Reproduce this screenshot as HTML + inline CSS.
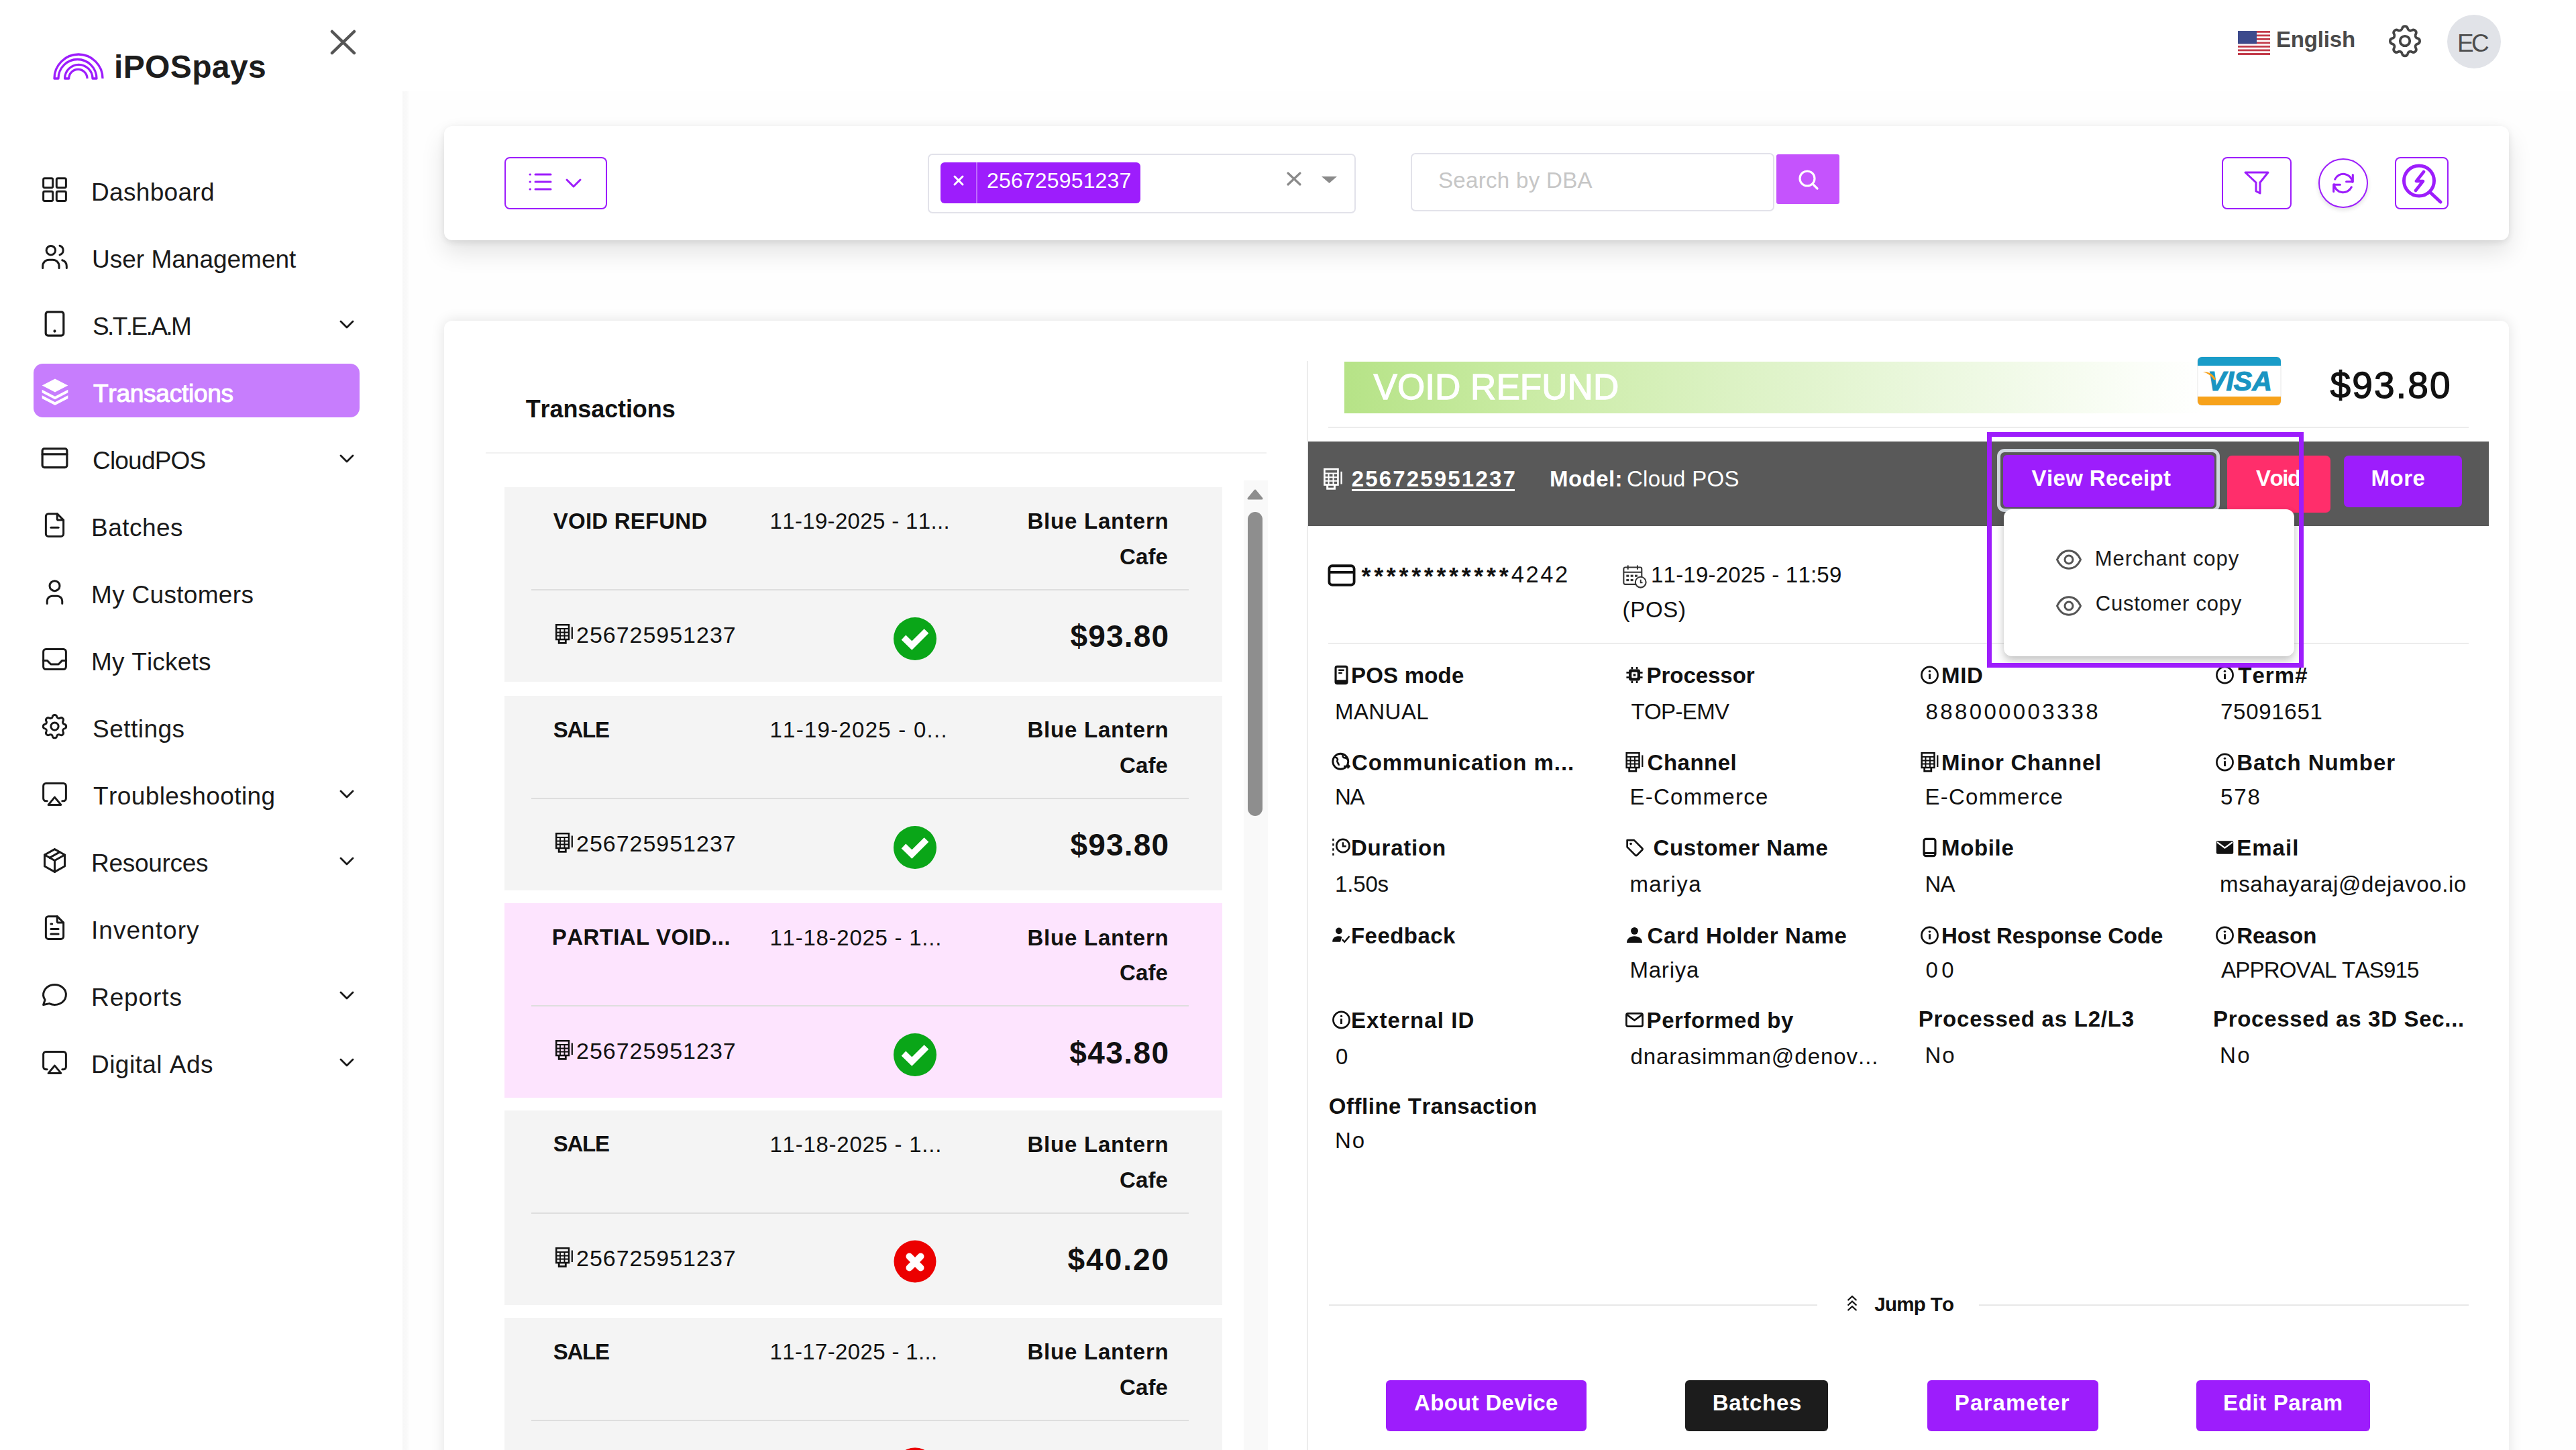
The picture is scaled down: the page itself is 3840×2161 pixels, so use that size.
<!DOCTYPE html>
<html><head><meta charset="utf-8"><title>iPOSpays - Transactions</title>
<style>
html,body{margin:0;padding:0;}
body{width:3840px;height:2161px;overflow:hidden;position:relative;background:#fff;font-family:"Liberation Sans",sans-serif;}
.t{position:absolute;white-space:nowrap;line-height:1;font-kerning:none;}
svg{overflow:visible}
</style></head><body>
<div style="position:absolute;left:600px;top:136px;width:3240px;height:2025px;background:#fefefe"></div>
<div style="position:absolute;left:600px;top:136px;width:10px;height:2025px;background:linear-gradient(90deg,#f7f7f7,#f9f9f9 60%,#fdfdfd)"></div>
<svg style="position:absolute;left:70px;top:72px;" width="92" height="52" viewBox="70 72 92 52" fill="none"><path d="M153,117 A36,36 0 0 0 81,117 L87,117 A28.5,28.5 0 0 1 144,117 L138,117 A20.7,20.7 0 0 0 96.6,117 L102.7,117 A13.65,13.65 0 0 1 130,117" stroke="#9d1dfc" stroke-width="3.3" stroke-linejoin="round"/></svg>
<div class="t" style="left:170.0px;top:76.4px;font-size:48px;font-weight:bold;letter-spacing:0.37px;color:#1d1d1d;">iPOSpays</div>
<svg style="position:absolute;left:490px;top:42px;" width="44" height="43" viewBox="0 0 44 43" fill="none"><path d="M5,5 L38,37 M38,5 L5,37" stroke="#555" stroke-width="4.5" stroke-linecap="round"/></svg>
<div style="position:absolute;left:50px;top:542px;width:486px;height:80px;background:#c77dfd;border-radius:14px"></div>
<svg style="position:absolute;left:59px;top:260.0px;" width="45" height="45.0" viewBox="0 0 24 24" fill="none"><g stroke="#1a1a1a" stroke-width="1.6" stroke-linecap="round" stroke-linejoin="round"><rect x="3" y="3" width="7.5" height="7.5" rx="1"/><rect x="13.5" y="3" width="7.5" height="7.5" rx="1"/><rect x="3" y="13.5" width="7.5" height="7.5" rx="1"/><rect x="13.5" y="13.5" width="7.5" height="7.5" rx="1"/></g></svg>
<div class="t" style="left:136.0px;top:267.7px;font-size:37px;letter-spacing:0.32px;color:#1a1a1a;">Dashboard</div>
<svg style="position:absolute;left:59px;top:360.0px;" width="45" height="45.0" viewBox="0 0 24 24" fill="none"><g stroke="#1a1a1a" stroke-width="1.6" stroke-linecap="round" stroke-linejoin="round"><circle cx="9" cy="7" r="3.6"/><path d="M2.5,21 v-1.5 a5,5 0 0 1 5,-5 h3 a5,5 0 0 1 5,5 v1.5"/><path d="M16,3.3 a3.8,3.8 0 0 1 0,7.3"/><path d="M21.5,21 v-1.5 a5,5 0 0 0 -3.5,-4.7"/></g></svg>
<div class="t" style="left:137.0px;top:367.7px;font-size:37px;color:#1a1a1a;">User Management</div>
<svg style="position:absolute;left:59px;top:460.0px;" width="45" height="45.0" viewBox="0 0 24 24" fill="none"><g stroke="#1a1a1a" stroke-width="1.6" stroke-linecap="round" stroke-linejoin="round"><rect x="4.9" y="2.6" width="14.2" height="18.8" rx="1.8" stroke-width="1.7"/><path d="M12,17.8 v0.1" stroke-width="2.2"/></g></svg>
<div class="t" style="left:138.0px;top:467.7px;font-size:37px;letter-spacing:-2.59px;color:#1a1a1a;">S.T.E.A.M</div>
<svg style="position:absolute;left:503px;top:473px;" width="28" height="22" viewBox="0 0 28 22" fill="none"><path d="M5,6 L14,15 L23,6" stroke="#1a1a1a" stroke-width="2.8" stroke-linecap="round" stroke-linejoin="round"/></svg>
<svg style="position:absolute;left:62px;top:563.5px;" width="40" height="40.0" viewBox="0 0 24 24" fill="none"><path d="M12,0.3 L23.6,6.3 L12,12.3 L0.4,6.3z" fill="#fff"/><path d="M0.4,10 L12,16 L23.6,10 L23.6,12.8 L12,18.8 L0.4,12.8z" fill="#fff"/><path d="M0.4,15.2 L12,21.2 L23.6,15.2 L23.6,18 L12,24 L0.4,18z" fill="#fff"/></svg>
<div class="t" style="left:139.0px;top:567.7px;font-size:37px;letter-spacing:-0.25px;color:#fff;-webkit-text-stroke:1.1px #fff;">Transactions</div>
<svg style="position:absolute;left:59px;top:660.0px;" width="45" height="45.0" viewBox="0 0 24 24" fill="none"><g stroke="#1a1a1a" stroke-width="1.6" stroke-linecap="round" stroke-linejoin="round"><rect x="2.2" y="4.6" width="19.6" height="14.9" rx="1.6" stroke-width="1.7"/><path d="M2.2,9 h19.6" stroke-width="1.7"/></g></svg>
<div class="t" style="left:138.0px;top:667.7px;font-size:37px;letter-spacing:-0.80px;color:#1a1a1a;">CloudPOS</div>
<svg style="position:absolute;left:503px;top:673px;" width="28" height="22" viewBox="0 0 28 22" fill="none"><path d="M5,6 L14,15 L23,6" stroke="#1a1a1a" stroke-width="2.8" stroke-linecap="round" stroke-linejoin="round"/></svg>
<svg style="position:absolute;left:59px;top:760.0px;" width="45" height="45.0" viewBox="0 0 24 24" fill="none"><g stroke="#1a1a1a" stroke-width="1.6" stroke-linecap="round" stroke-linejoin="round"><path d="M14,3 v4 a1,1 0 0 0 1,1 h4"/><path d="M17,21 h-10 a2,2 0 0 1 -2,-2 v-14 a2,2 0 0 1 2,-2 h7 l5,5 v11 a2,2 0 0 1 -2,2z"/><path d="M9,14 h6"/></g></svg>
<div class="t" style="left:136.0px;top:767.7px;font-size:37px;letter-spacing:0.47px;color:#1a1a1a;">Batches</div>
<svg style="position:absolute;left:59px;top:860.0px;" width="45" height="45.0" viewBox="0 0 24 24" fill="none"><g stroke="#1a1a1a" stroke-width="1.6" stroke-linecap="round" stroke-linejoin="round"><circle cx="12" cy="7" r="4"/><path d="M6,21 v-2 a4,4 0 0 1 4,-4 h4 a4,4 0 0 1 4,4 v2"/></g></svg>
<div class="t" style="left:136.0px;top:867.7px;font-size:37px;letter-spacing:0.31px;color:#1a1a1a;">My Customers</div>
<svg style="position:absolute;left:59px;top:960.0px;" width="45" height="45.0" viewBox="0 0 24 24" fill="none"><g stroke="#1a1a1a" stroke-width="1.6" stroke-linecap="round" stroke-linejoin="round"><rect x="3" y="4" width="18" height="16" rx="2"/><path d="M3,13 h3 l3,3 h6 l3,-3 h3"/></g></svg>
<div class="t" style="left:136.0px;top:967.7px;font-size:37px;letter-spacing:0.19px;color:#1a1a1a;">My Tickets</div>
<svg style="position:absolute;left:59px;top:1060.0px;" width="45" height="45.0" viewBox="0 0 24 24" fill="none"><g stroke="#1a1a1a" stroke-width="1.6" stroke-linecap="round" stroke-linejoin="round"><path d="M10.3,4.3 c.4,-1.8 3,-1.8 3.4,0 a1.7,1.7 0 0 0 2.6,1.1 c1.5,-.9 3.3,.8 2.4,2.4 a1.7,1.7 0 0 0 1.1,2.6 c1.8,.4 1.8,3 0,3.4 a1.7,1.7 0 0 0 -1.1,2.6 c.9,1.5 -.8,3.3 -2.4,2.4 a1.7,1.7 0 0 0 -2.6,1.1 c-.4,1.8 -3,1.8 -3.4,0 a1.7,1.7 0 0 0 -2.6,-1.1 c-1.5,.9 -3.3,-.8 -2.4,-2.4 a1.7,1.7 0 0 0 -1.1,-2.6 c-1.8,-.4 -1.8,-3 0,-3.4 a1.7,1.7 0 0 0 1.1,-2.6 c-.9,-1.5 .8,-3.3 2.4,-2.4 c1,.6 2.3,.1 2.6,-1.1z"/><circle cx="12" cy="12" r="3"/></g></svg>
<div class="t" style="left:138.0px;top:1067.7px;font-size:37px;letter-spacing:0.47px;color:#1a1a1a;">Settings</div>
<svg style="position:absolute;left:59px;top:1160.0px;" width="45" height="45.0" viewBox="0 0 24 24" fill="none"><g stroke="#1a1a1a" stroke-width="1.6" stroke-linecap="round" stroke-linejoin="round"><path d="M6,18 h-1 a2,2 0 0 1 -2,-2 v-10 a2,2 0 0 1 2,-2 h14 a2,2 0 0 1 2,2 v10 a2,2 0 0 1 -2,2 h-1"/><path d="M12,15 l5,6 h-10z"/></g></svg>
<div class="t" style="left:139.0px;top:1167.7px;font-size:37px;letter-spacing:0.41px;color:#1a1a1a;">Troubleshooting</div>
<svg style="position:absolute;left:503px;top:1173px;" width="28" height="22" viewBox="0 0 28 22" fill="none"><path d="M5,6 L14,15 L23,6" stroke="#1a1a1a" stroke-width="2.8" stroke-linecap="round" stroke-linejoin="round"/></svg>
<svg style="position:absolute;left:59px;top:1260.0px;" width="45" height="45.0" viewBox="0 0 24 24" fill="none"><g stroke="#1a1a1a" stroke-width="1.6" stroke-linecap="round" stroke-linejoin="round"><path d="M12,3 l8,4.5 v9 l-8,4.5 l-8,-4.5 v-9 l8,-4.5"/><path d="M12,12 l8,-4.5"/><path d="M12,12 v9"/><path d="M12,12 l-8,-4.5"/><path d="M16,5.25 l-8,4.5"/></g></svg>
<div class="t" style="left:136.0px;top:1267.7px;font-size:37px;letter-spacing:-0.29px;color:#1a1a1a;">Resources</div>
<svg style="position:absolute;left:503px;top:1273px;" width="28" height="22" viewBox="0 0 28 22" fill="none"><path d="M5,6 L14,15 L23,6" stroke="#1a1a1a" stroke-width="2.8" stroke-linecap="round" stroke-linejoin="round"/></svg>
<svg style="position:absolute;left:59px;top:1360.0px;" width="45" height="45.0" viewBox="0 0 24 24" fill="none"><g stroke="#1a1a1a" stroke-width="1.6" stroke-linecap="round" stroke-linejoin="round"><path d="M14,3 v4 a1,1 0 0 0 1,1 h4"/><path d="M17,21 h-10 a2,2 0 0 1 -2,-2 v-14 a2,2 0 0 1 2,-2 h7 l5,5 v11 a2,2 0 0 1 -2,2z"/><path d="M9,9 h1 M9,13 h6 M9,17 h6"/></g></svg>
<div class="t" style="left:136.0px;top:1367.7px;font-size:37px;letter-spacing:1.04px;color:#1a1a1a;">Inventory</div>
<svg style="position:absolute;left:59px;top:1460.0px;" width="45" height="45.0" viewBox="0 0 24 24" fill="none"><g stroke="#1a1a1a" stroke-width="1.6" stroke-linecap="round" stroke-linejoin="round"><path d="M3,20 l1.3,-3.9 a9,8 0 1 1 3.4,2.9 l-4.7,1"/></g></svg>
<div class="t" style="left:136.0px;top:1467.7px;font-size:37px;letter-spacing:0.91px;color:#1a1a1a;">Reports</div>
<svg style="position:absolute;left:503px;top:1473px;" width="28" height="22" viewBox="0 0 28 22" fill="none"><path d="M5,6 L14,15 L23,6" stroke="#1a1a1a" stroke-width="2.8" stroke-linecap="round" stroke-linejoin="round"/></svg>
<svg style="position:absolute;left:59px;top:1560.0px;" width="45" height="45.0" viewBox="0 0 24 24" fill="none"><g stroke="#1a1a1a" stroke-width="1.6" stroke-linecap="round" stroke-linejoin="round"><path d="M6,18 h-1 a2,2 0 0 1 -2,-2 v-10 a2,2 0 0 1 2,-2 h14 a2,2 0 0 1 2,2 v10 a2,2 0 0 1 -2,2 h-1"/><path d="M12,15 l5,6 h-10z"/></g></svg>
<div class="t" style="left:136.0px;top:1567.7px;font-size:37px;letter-spacing:0.46px;color:#1a1a1a;">Digital Ads</div>
<svg style="position:absolute;left:503px;top:1573px;" width="28" height="22" viewBox="0 0 28 22" fill="none"><path d="M5,6 L14,15 L23,6" stroke="#1a1a1a" stroke-width="2.8" stroke-linecap="round" stroke-linejoin="round"/></svg>
<svg style="position:absolute;left:3336px;top:46px" width="48" height="36" viewBox="0 0 48 36">
<rect width="48" height="36" fill="#fff"/>
<g fill="#c23b4a"><rect y="0" width="48" height="2.8"/><rect y="5.5" width="48" height="2.8"/><rect y="11" width="48" height="2.8"/><rect y="16.5" width="48" height="2.8"/><rect y="22" width="48" height="2.8"/><rect y="27.5" width="48" height="2.8"/><rect y="33" width="48" height="3"/></g>
<rect width="28" height="19.3" fill="#3c4a8c"/></svg>
<div class="t" style="left:3393.0px;top:42.1px;font-size:33px;font-weight:bold;letter-spacing:-0.17px;color:#4a4a4a;">English</div>
<svg style="position:absolute;left:3556px;top:32px;" width="58" height="58" viewBox="0 0 24 24" fill="none"><g stroke="#444" stroke-width="1.55" stroke-linecap="round" stroke-linejoin="round"><path d="M10.3,4.3 c.4,-1.8 3,-1.8 3.4,0 a1.7,1.7 0 0 0 2.6,1.1 c1.5,-.9 3.3,.8 2.4,2.4 a1.7,1.7 0 0 0 1.1,2.6 c1.8,.4 1.8,3 0,3.4 a1.7,1.7 0 0 0 -1.1,2.6 c.9,1.5 -.8,3.3 -2.4,2.4 a1.7,1.7 0 0 0 -2.6,1.1 c-.4,1.8 -3,1.8 -3.4,0 a1.7,1.7 0 0 0 -2.6,-1.1 c-1.5,.9 -3.3,-.8 -2.4,-2.4 a1.7,1.7 0 0 0 -1.1,-2.6 c-1.8,-.4 -1.8,-3 0,-3.4 a1.7,1.7 0 0 0 1.1,-2.6 c-.9,-1.5 .8,-3.3 2.4,-2.4 c1,.6 2.3,.1 2.6,-1.1z"/><circle cx="12" cy="12" r="3"/></g></svg>
<div style="position:absolute;left:3648px;top:22px;width:80px;height:80px;background:#e1e3e8;border-radius:50%"></div>
<div class="t" style="left:3663.0px;top:46.2px;font-size:37px;letter-spacing:-3.68px;color:#4d4d4d;">EC</div>
<div style="position:absolute;left:662px;top:188px;width:3078px;height:170px;background:#fff;border-radius:12px;box-shadow:0 18px 36px rgba(0,0,0,0.11),0 4px 10px rgba(0,0,0,0.06),0 0 14px rgba(0,0,0,0.04)"></div>
<div style="position:absolute;left:752px;top:234px;width:153px;height:78px;border:2.5px solid #9d1dfc;border-radius:8px;box-sizing:border-box"></div>
<svg style="position:absolute;left:786px;top:256px;" width="38" height="30" viewBox="0 0 38 30" fill="none"><g stroke="#9d1dfc" stroke-width="3" stroke-linecap="round"><path d="M4,4 h0.5 M4,15 h0.5 M4,26 h0.5"/><path d="M12,4 h23 M12,15 h23 M12,26 h23"/></g></svg>
<svg style="position:absolute;left:842px;top:265px;" width="26" height="16" viewBox="0 0 26 16" fill="none"><path d="M3,3 L13,13 L23,3" stroke="#9d1dfc" stroke-width="3" stroke-linecap="round" stroke-linejoin="round"/></svg>
<div style="position:absolute;left:1383px;top:229px;width:638px;height:89px;border:2px solid #e2e2ea;border-radius:7px;box-sizing:border-box;background:#fff"></div>
<div style="position:absolute;left:1402px;top:242px;width:298px;height:61px;background:#9d1dfc;border-radius:6px"></div>
<div style="position:absolute;left:1455px;top:242px;width:2px;height:61px;background:rgba(255,255,255,0.35)"></div>
<svg style="position:absolute;left:1420px;top:260px;" width="18" height="18" viewBox="0 0 18 18" fill="none"><path d="M3,3 L15,15 M15,3 L3,15" stroke="#fff" stroke-width="3" stroke-linecap="round"/></svg>
<div class="t" style="left:1471.0px;top:253.4px;font-size:32px;letter-spacing:0.16px;color:#fff;">256725951237</div>
<svg style="position:absolute;left:1916px;top:254px;" width="26" height="25" viewBox="0 0 26 25" fill="none"><path d="M4,4 L22,21 M22,4 L4,21" stroke="#8a8a8a" stroke-width="3.2" stroke-linecap="round"/></svg>
<svg style="position:absolute;left:1968px;top:261px;" width="27" height="14" viewBox="0 0 27 14" fill="none"><path d="M2,2 L25,2 L13.5,12z" fill="#8a8a8a"/></svg>
<div style="position:absolute;left:2103px;top:228px;width:542px;height:87px;border:2px solid #e2e2ea;border-radius:7px;box-sizing:border-box;background:#fff"></div>
<div class="t" style="left:2144.0px;top:252.1px;font-size:33px;letter-spacing:0.33px;color:#c6c6c6;">Search by DBA</div>
<div style="position:absolute;left:2648px;top:230px;width:94px;height:74px;background:#c553fd;border-radius:3px"></div>
<svg style="position:absolute;left:2678px;top:250px;" width="36" height="36" viewBox="0 0 36 36" fill="none"><circle cx="16" cy="16" r="11" stroke="#fff" stroke-width="3.2"/><path d="M24,24 L31,31" stroke="#fff" stroke-width="3.2" stroke-linecap="round"/></svg>
<div style="position:absolute;left:3312px;top:234px;width:104px;height:78px;border:2.5px solid #9d1dfc;border-radius:8px;box-sizing:border-box"></div>
<svg style="position:absolute;left:3343px;top:252px;" width="42" height="39" viewBox="0 0 42 39" fill="none"><path d="M4,5 H38 L26,20 V36 L20,33 V20 Z" stroke="#9d1dfc" stroke-width="3" stroke-linejoin="round"/></svg>
<div style="position:absolute;left:3456px;top:236px;width:74px;height:74px;border:2px solid #9d1dfc;border-radius:50%;box-sizing:border-box;box-shadow:0 3px 6px rgba(0,0,0,0.12);background:#fff"></div>
<svg style="position:absolute;left:3471px;top:251px;" width="44" height="44" viewBox="0 0 24 24" fill="none"><g stroke="#9d1dfc" stroke-width="1.7" stroke-linecap="round" stroke-linejoin="round"><path d="M19.5,11 a7.5,7.5 0 0 0 -14.2,-2.2 M4.5,13 a7.5,7.5 0 0 0 14.2,2.2"/><path d="M19.8,5.2 v5.6 h-5.3"/><path d="M4.2,18.8 v-5.6 h5.3"/></g></svg>
<div style="position:absolute;left:3570px;top:234px;width:80px;height:78px;border:2.5px solid #9d1dfc;border-radius:8px;box-sizing:border-box"></div>
<svg style="position:absolute;left:3575px;top:238px;" width="70" height="70" viewBox="0 0 70 70" fill="none"><circle cx="31" cy="31.5" r="22.5" stroke="#9d1dfc" stroke-width="5"/><path d="M48,49 L63,63" stroke="#9d1dfc" stroke-width="5" stroke-linecap="round"/><path d="M38,18 L27,32 H37 L26,46" stroke="#9d1dfc" stroke-width="4.6" stroke-linecap="round" stroke-linejoin="round"/></svg>
<div style="position:absolute;left:662px;top:478px;width:3078px;height:1722px;background:#fff;border-radius:12px;box-shadow:0 0 20px rgba(0,0,0,0.115)"></div>
<div class="t" style="left:783.7px;top:592.2px;font-size:36px;font-weight:bold;letter-spacing:-0.10px;color:#111;">Transactions</div>
<div style="position:absolute;left:724px;top:674px;width:1164px;height:2px;background:#f1f1f1"></div>
<div style="position:absolute;left:752px;top:726px;width:1070px;height:290px;background:#f4f4f4"></div>
<div class="t" style="left:824.8px;top:760.0px;font-size:33px;font-weight:bold;letter-spacing:0.21px;color:#111;">VOID REFUND</div>
<div class="t" style="left:1147.5px;top:760.3px;font-size:33px;letter-spacing:0.34px;color:#111;">11-19-2025 - 11...</div>
<div class="t" style="left:1531.5px;top:760.3px;font-size:33px;font-weight:bold;letter-spacing:0.77px;color:#111;">Blue Lantern</div>
<div class="t" style="left:1669.0px;top:813.1px;font-size:33px;font-weight:bold;letter-spacing:0.11px;color:#111;">Cafe</div>
<div style="position:absolute;left:792px;top:878px;width:980px;height:2px;background:#dedede"></div>
<svg style="position:absolute;left:828px;top:930px;" width="26" height="30" viewBox="0 0 26 30" fill="none"><g stroke="#111" fill="none"><rect x="1.2" y="1.2" width="18.8" height="21.8" stroke-width="2.5"/><path d="M1,7 H20 M1,12.5 H20 M1,17.5 H20 M7,7 V23 M13.5,7 V23" stroke-width="1.9"/><path d="M5.2,23 V28.3 H15.3 V23" stroke-width="2.8"/><path d="M24.8,4.5 V22" stroke-width="2.2"/></g></svg>
<div class="t" style="left:859.0px;top:929.1px;font-size:34px;letter-spacing:0.98px;color:#111;">256725951237</div>
<svg style="position:absolute;left:1332px;top:920px;" width="64" height="64" viewBox="0 0 64 64" fill="none"><circle cx="32" cy="32" r="32" fill="#0aa618"/><path d="M15,30 L27.3,42 L49,20.5" stroke="#fff" stroke-width="9.5" stroke-linejoin="miter"/></svg>
<div class="t" style="left:1595.5px;top:925.3px;font-size:46px;font-weight:bold;letter-spacing:1.18px;color:#111;">$93.80</div>
<div style="position:absolute;left:752px;top:1037px;width:1070px;height:290px;background:#f4f4f4"></div>
<div class="t" style="left:824.8px;top:1070.5px;font-size:33px;font-weight:bold;letter-spacing:-1.27px;color:#111;">SALE</div>
<div class="t" style="left:1147.5px;top:1070.8px;font-size:33px;letter-spacing:1.26px;color:#111;">11-19-2025 - 0...</div>
<div class="t" style="left:1531.5px;top:1070.8px;font-size:33px;font-weight:bold;letter-spacing:0.77px;color:#111;">Blue Lantern</div>
<div class="t" style="left:1669.0px;top:1123.6px;font-size:33px;font-weight:bold;letter-spacing:0.11px;color:#111;">Cafe</div>
<div style="position:absolute;left:792px;top:1189px;width:980px;height:2px;background:#dedede"></div>
<svg style="position:absolute;left:828px;top:1241px;" width="26" height="30" viewBox="0 0 26 30" fill="none"><g stroke="#111" fill="none"><rect x="1.2" y="1.2" width="18.8" height="21.8" stroke-width="2.5"/><path d="M1,7 H20 M1,12.5 H20 M1,17.5 H20 M7,7 V23 M13.5,7 V23" stroke-width="1.9"/><path d="M5.2,23 V28.3 H15.3 V23" stroke-width="2.8"/><path d="M24.8,4.5 V22" stroke-width="2.2"/></g></svg>
<div class="t" style="left:859.0px;top:1239.6px;font-size:34px;letter-spacing:0.98px;color:#111;">256725951237</div>
<svg style="position:absolute;left:1332px;top:1231px;" width="64" height="64" viewBox="0 0 64 64" fill="none"><circle cx="32" cy="32" r="32" fill="#0aa618"/><path d="M15,30 L27.3,42 L49,20.5" stroke="#fff" stroke-width="9.5" stroke-linejoin="miter"/></svg>
<div class="t" style="left:1595.5px;top:1235.8px;font-size:46px;font-weight:bold;letter-spacing:1.18px;color:#111;">$93.80</div>
<div style="position:absolute;left:752px;top:1346px;width:1070px;height:290px;background:#fde4fe"></div>
<div class="t" style="left:822.8px;top:1380.2px;font-size:33px;font-weight:bold;letter-spacing:0.39px;color:#111;">PARTIAL VOID...</div>
<div class="t" style="left:1147.5px;top:1380.5px;font-size:33px;letter-spacing:0.74px;color:#111;">11-18-2025 - 1...</div>
<div class="t" style="left:1531.5px;top:1380.5px;font-size:33px;font-weight:bold;letter-spacing:0.77px;color:#111;">Blue Lantern</div>
<div class="t" style="left:1669.0px;top:1433.3px;font-size:33px;font-weight:bold;letter-spacing:0.11px;color:#111;">Cafe</div>
<div style="position:absolute;left:792px;top:1498px;width:980px;height:2px;background:#dedede"></div>
<svg style="position:absolute;left:828px;top:1550px;" width="26" height="30" viewBox="0 0 26 30" fill="none"><g stroke="#111" fill="none"><rect x="1.2" y="1.2" width="18.8" height="21.8" stroke-width="2.5"/><path d="M1,7 H20 M1,12.5 H20 M1,17.5 H20 M7,7 V23 M13.5,7 V23" stroke-width="1.9"/><path d="M5.2,23 V28.3 H15.3 V23" stroke-width="2.8"/><path d="M24.8,4.5 V22" stroke-width="2.2"/></g></svg>
<div class="t" style="left:859.0px;top:1549.3px;font-size:34px;letter-spacing:0.98px;color:#111;">256725951237</div>
<svg style="position:absolute;left:1332px;top:1540px;" width="64" height="64" viewBox="0 0 64 64" fill="none"><circle cx="32" cy="32" r="32" fill="#0aa618"/><path d="M15,30 L27.3,42 L49,20.5" stroke="#fff" stroke-width="9.5" stroke-linejoin="miter"/></svg>
<div class="t" style="left:1594.3px;top:1545.5px;font-size:46px;font-weight:bold;letter-spacing:1.42px;color:#111;">$43.80</div>
<div style="position:absolute;left:752px;top:1655px;width:1070px;height:290px;background:#f4f4f4"></div>
<div class="t" style="left:824.8px;top:1688.4px;font-size:33px;font-weight:bold;letter-spacing:-1.27px;color:#111;">SALE</div>
<div class="t" style="left:1147.5px;top:1688.7px;font-size:33px;letter-spacing:0.74px;color:#111;">11-18-2025 - 1...</div>
<div class="t" style="left:1531.5px;top:1688.7px;font-size:33px;font-weight:bold;letter-spacing:0.77px;color:#111;">Blue Lantern</div>
<div class="t" style="left:1669.0px;top:1741.5px;font-size:33px;font-weight:bold;letter-spacing:0.11px;color:#111;">Cafe</div>
<div style="position:absolute;left:792px;top:1807px;width:980px;height:2px;background:#dedede"></div>
<svg style="position:absolute;left:828px;top:1859px;" width="26" height="30" viewBox="0 0 26 30" fill="none"><g stroke="#111" fill="none"><rect x="1.2" y="1.2" width="18.8" height="21.8" stroke-width="2.5"/><path d="M1,7 H20 M1,12.5 H20 M1,17.5 H20 M7,7 V23 M13.5,7 V23" stroke-width="1.9"/><path d="M5.2,23 V28.3 H15.3 V23" stroke-width="2.8"/><path d="M24.8,4.5 V22" stroke-width="2.2"/></g></svg>
<div class="t" style="left:859.0px;top:1857.5px;font-size:34px;letter-spacing:0.98px;color:#111;">256725951237</div>
<svg style="position:absolute;left:1332px;top:1849px;" width="64" height="64" viewBox="0 0 64 64" fill="none"><circle cx="32" cy="31" r="31.5" fill="#ec0000"/><path d="M23.5,23.5 L40.5,40.5 M40.5,23.5 L23.5,40.5" stroke="#fff" stroke-width="10" stroke-linecap="round"/></svg>
<div class="t" style="left:1591.5px;top:1853.7px;font-size:46px;font-weight:bold;letter-spacing:1.98px;color:#111;">$40.20</div>
<div style="position:absolute;left:752px;top:1964px;width:1070px;height:290px;background:#f4f4f4"></div>
<div class="t" style="left:824.8px;top:1998.1px;font-size:33px;font-weight:bold;letter-spacing:-1.27px;color:#111;">SALE</div>
<div class="t" style="left:1147.5px;top:1998.4px;font-size:33px;letter-spacing:0.36px;color:#111;">11-17-2025 - 1...</div>
<div class="t" style="left:1531.5px;top:1998.4px;font-size:33px;font-weight:bold;letter-spacing:0.77px;color:#111;">Blue Lantern</div>
<div class="t" style="left:1669.0px;top:2051.2px;font-size:33px;font-weight:bold;letter-spacing:0.11px;color:#111;">Cafe</div>
<div style="position:absolute;left:792px;top:2116px;width:980px;height:2px;background:#dedede"></div>
<svg style="position:absolute;left:828px;top:2168px;" width="26" height="30" viewBox="0 0 26 30" fill="none"><g stroke="#111" fill="none"><rect x="1.2" y="1.2" width="18.8" height="21.8" stroke-width="2.5"/><path d="M1,7 H20 M1,12.5 H20 M1,17.5 H20 M7,7 V23 M13.5,7 V23" stroke-width="1.9"/><path d="M5.2,23 V28.3 H15.3 V23" stroke-width="2.8"/><path d="M24.8,4.5 V22" stroke-width="2.2"/></g></svg>
<div class="t" style="left:859.0px;top:2167.2px;font-size:34px;letter-spacing:0.98px;color:#111;">256725951237</div>
<svg style="position:absolute;left:1332px;top:2158px;" width="64" height="64" viewBox="0 0 64 64" fill="none"><circle cx="32" cy="31" r="31.5" fill="#ec0000"/><path d="M23.5,23.5 L40.5,40.5 M40.5,23.5 L23.5,40.5" stroke="#fff" stroke-width="10" stroke-linecap="round"/></svg>
<div style="position:absolute;left:1854px;top:716px;width:36px;height:1445px;background:#f9f9f9"></div>
<svg style="position:absolute;left:1858px;top:728px;" width="26" height="19" viewBox="0 0 26 19" fill="none"><path d="M13,3 L23,15 L3,15z" fill="#8e8e8e" stroke="#8e8e8e" stroke-width="3" stroke-linejoin="round"/></svg>
<div style="position:absolute;left:1860px;top:763px;width:22px;height:453px;background:#8e8e8e;border-radius:11px"></div>
<div style="position:absolute;left:1948px;top:538px;width:2px;height:1623px;background:#ececec"></div>
<div style="position:absolute;left:2004px;top:539px;width:1286px;height:77px;background:linear-gradient(90deg,#b6e387 0%,#c9eba3 20%,#dcf2c4 45%,#ecf8e0 70%,#fbfef8 92%,#fff 100%)"></div>
<div class="t" style="left:2047.5px;top:549.6px;font-size:53px;letter-spacing:0.06px;color:#fff;-webkit-text-stroke:1.3px #fff;">VOID REFUND</div>
<svg style="position:absolute;left:3276px;top:532px" width="124" height="72" viewBox="0 0 124 72">
<rect x="0" y="0" width="124" height="72" rx="6" fill="#fff" stroke="#e6e6e6" stroke-width="1"/>
<path d="M6,0 H118 a6,6 0 0 1 6,6 V13 H0 V6 a6,6 0 0 1 6,-6z" fill="#1a9cc8"/>
<path d="M0,59 H124 V66 a6,6 0 0 1 -6,6 H6 a6,6 0 0 1 -6,-6z" fill="#f7a21b"/>
<text x="63" y="50" text-anchor="middle" font-family="Liberation Sans" font-weight="bold" font-style="italic" font-size="41" fill="#1a95c2" stroke="#1a95c2" stroke-width="1.2" letter-spacing="0" textLength="96" lengthAdjust="spacingAndGlyphs">VISA</text>
<path d="M8,22 Q20,21 27.5,33 L24.5,34.5 Q19,25.5 8,22z" fill="#f7a21b"/>
</svg>
<div class="t" style="left:3473.6px;top:547.4px;font-size:55px;letter-spacing:2.17px;color:#111;-webkit-text-stroke:1.3px #111;">$93.80</div>
<div style="position:absolute;left:1980px;top:636px;width:1700px;height:2px;background:#ececec"></div>
<div style="position:absolute;left:1950px;top:658px;width:1760px;height:126px;background:#595959"></div>
<svg style="position:absolute;left:1973px;top:698px;" width="28" height="32" viewBox="0 0 26 30" fill="none"><g stroke="#fff" fill="none"><rect x="1.2" y="1.2" width="18.8" height="21.8" stroke-width="2.5"/><path d="M1,7 H20 M1,12.5 H20 M1,17.5 H20 M7,7 V23 M13.5,7 V23" stroke-width="1.9"/><path d="M5.2,23 V28.3 H15.3 V23" stroke-width="2.8"/><path d="M24.8,4.5 V22" stroke-width="2.2"/></g></svg>
<div class="t" style="left:2014.7px;top:697.1px;font-size:33px;font-weight:bold;letter-spacing:2.17px;color:#fff;">256725951237</div>
<div style="position:absolute;left:2015px;top:729px;width:243px;height:2.5px;background:#fff"></div>
<div class="t" style="left:2310.0px;top:697.1px;font-size:33px;font-weight:bold;letter-spacing:0.45px;color:#fff;">Model:</div>
<div class="t" style="left:2425.0px;top:697.1px;font-size:33px;letter-spacing:0.29px;color:#fff;">Cloud POS</div>
<div style="position:absolute;left:2977px;top:669px;width:332px;height:94px;border:5.5px solid #cfd6de;border-radius:11px;box-sizing:border-box"></div>
<div style="position:absolute;left:2985.5px;top:677.5px;width:315.0px;height:78.5px;background:#9d1dfc;border-radius:6px"></div>
<div class="t" style="left:3028.6px;top:696.1px;font-size:33px;font-weight:bold;letter-spacing:0.35px;color:#fff;">View Receipt</div>
<div style="position:absolute;left:3320px;top:679px;width:154px;height:85px;background:#ff2e6b;border-radius:7px"></div>
<div class="t" style="left:3363.0px;top:696.1px;font-size:33px;font-weight:bold;letter-spacing:-1.45px;color:#fff;">Void</div>
<div style="position:absolute;left:3494px;top:679px;width:176px;height:76.5px;background:#9d1dfc;border-radius:7px"></div>
<div class="t" style="left:3534.5px;top:696.1px;font-size:33px;font-weight:bold;letter-spacing:0.50px;color:#fff;">More</div>
<svg style="position:absolute;left:1979px;top:841px;" width="42" height="33" viewBox="0 0 24 19" fill="none"><rect x="1.3" y="1.3" width="21.4" height="16.4" rx="2.5" stroke="#111" stroke-width="2.2"/><path d="M1.3,6.8 H22.7" stroke="#111" stroke-width="2.2"/></svg>
<div class="t" style="left:2029.6px;top:841.5px;font-size:36px;font-weight:bold;letter-spacing:4.63px;color:#111;">************</div>
<div class="t" style="left:2252.8px;top:838.8px;font-size:34.5px;letter-spacing:2.55px;color:#111;">4242</div>
<svg style="position:absolute;left:2418px;top:840px;" width="38" height="38" viewBox="0 0 24 24" fill="none"><g stroke="#333" stroke-width="1.3" fill="none"><rect x="1.5" y="3.5" width="17" height="16" rx="1.5"/><path d="M1.5,8 H18.5 M5.5,1.5 v4 M14.5,1.5 v4"/></g><g fill="#333"><rect x="4" y="10.5" width="2.5" height="2"/><rect x="8" y="10.5" width="2.5" height="2"/><rect x="12" y="10.5" width="2.5" height="2"/><rect x="4" y="14.5" width="2.5" height="2"/><rect x="8" y="14.5" width="2.5" height="2"/></g><circle cx="17.5" cy="17.5" r="5" fill="#fff" stroke="#333" stroke-width="1.3"/><path d="M17.5,15 v2.8 h1.8" stroke="#333" stroke-width="1.2"/></svg>
<div class="t" style="left:2461.0px;top:840.1px;font-size:33px;letter-spacing:0.21px;color:#111;">11-19-2025 - 11:59</div>
<div class="t" style="left:2418.5px;top:891.7px;font-size:33px;letter-spacing:0.71px;color:#111;">(POS)</div>
<div style="position:absolute;left:1980px;top:958px;width:1700px;height:2px;background:#ececec"></div>
<svg style="position:absolute;left:1985px;top:991px;" width="29" height="30" viewBox="0 0 24 24" fill="none"><rect x="5" y="1.5" width="14" height="21" rx="2" stroke="#111" stroke-width="2.6"/><path d="M8.5,6 h7 M8.5,9.5 h4.5" stroke="#111" stroke-width="2"/><rect x="5" y="18" width="14" height="4.5" fill="#111"/></svg>
<div class="t" style="left:2014.0px;top:989.7px;font-size:33px;font-weight:bold;letter-spacing:0.21px;color:#111;">POS mode</div>
<div class="t" style="left:1990.0px;top:1043.6px;font-size:33px;letter-spacing:0.43px;color:#111;">MANUAL</div>
<svg style="position:absolute;left:2422px;top:991px;" width="29" height="30" viewBox="0 0 24 24" fill="none"><rect x="5" y="5" width="14" height="14" rx="2" fill="#111"/><path d="M9,2 v3 M15,2 v3 M9,19 v3 M15,19 v3 M2,9 h3 M2,15 h3 M19,9 h3 M19,15 h3" stroke="#111" stroke-width="2.2"/><rect x="8.5" y="8.5" width="7" height="7" rx="1" fill="#fff"/><rect x="10.5" y="10.5" width="3" height="3" fill="#111"/></svg>
<div class="t" style="left:2454.6px;top:989.7px;font-size:33px;font-weight:bold;letter-spacing:-0.05px;color:#111;">Processor</div>
<div class="t" style="left:2431.4px;top:1043.6px;font-size:33px;letter-spacing:-0.60px;color:#111;">TOP-EMV</div>
<svg style="position:absolute;left:2862px;top:991px;" width="29" height="30" viewBox="0 0 24 24" fill="none"><circle cx="12" cy="12" r="10" stroke="#111" stroke-width="2.2"/><path d="M12,10.5 v6.5" stroke="#111" stroke-width="2.4"/><circle cx="12" cy="7.3" r="1.4" fill="#111"/></svg>
<div class="t" style="left:2894.0px;top:989.7px;font-size:33px;font-weight:bold;letter-spacing:0.67px;color:#111;">MID</div>
<div class="t" style="left:2870.6px;top:1043.6px;font-size:33px;letter-spacing:3.35px;color:#111;">888000003338</div>
<svg style="position:absolute;left:3302px;top:991px;" width="29" height="30" viewBox="0 0 24 24" fill="none"><circle cx="12" cy="12" r="10" stroke="#111" stroke-width="2.2"/><path d="M12,10.5 v6.5" stroke="#111" stroke-width="2.4"/><circle cx="12" cy="7.3" r="1.4" fill="#111"/></svg>
<div class="t" style="left:3336.2px;top:989.7px;font-size:33px;font-weight:bold;letter-spacing:1.08px;color:#111;">Term#</div>
<div class="t" style="left:3310.0px;top:1043.6px;font-size:33px;letter-spacing:0.72px;color:#111;">75091651</div>
<svg style="position:absolute;left:1985px;top:1121px;" width="29" height="30" viewBox="0 0 24 24" fill="none"><circle cx="11" cy="11" r="9.5" stroke="#111" stroke-width="2.4"/><path d="M4,6 c3,0 4,2 3,4 c-1,2 2,3 2,6 M14,2.5 c-1,2 0,4 2.5,4 c2,0 3,1 3,2.5" stroke="#111" stroke-width="2.2" fill="none"/><path d="M15,17 h7 m-2.5,-2.5 l2.5,2.5 l-2.5,2.5" stroke="#111" stroke-width="2" fill="none"/></svg>
<div class="t" style="left:2015.0px;top:1119.8px;font-size:33px;font-weight:bold;letter-spacing:0.93px;color:#111;">Communication m...</div>
<div class="t" style="left:1990.0px;top:1171.1px;font-size:33px;letter-spacing:-1.23px;color:#111;">NA</div>
<svg style="position:absolute;left:2422px;top:1121px;" width="29" height="30" viewBox="0 0 26 30" fill="none"><g stroke="#111" fill="none"><rect x="1.2" y="1.2" width="18.8" height="21.8" stroke-width="2.5"/><path d="M1,7 H20 M1,12.5 H20 M1,17.5 H20 M7,7 V23 M13.5,7 V23" stroke-width="1.9"/><path d="M5.2,23 V28.3 H15.3 V23" stroke-width="2.8"/><path d="M24.8,4.5 V22" stroke-width="2.2"/></g></svg>
<div class="t" style="left:2455.6px;top:1119.8px;font-size:33px;font-weight:bold;letter-spacing:0.50px;color:#111;">Channel</div>
<div class="t" style="left:2429.4px;top:1171.1px;font-size:33px;letter-spacing:1.29px;color:#111;">E-Commerce</div>
<svg style="position:absolute;left:2862px;top:1121px;" width="29" height="30" viewBox="0 0 26 30" fill="none"><g stroke="#111" fill="none"><rect x="1.2" y="1.2" width="18.8" height="21.8" stroke-width="2.5"/><path d="M1,7 H20 M1,12.5 H20 M1,17.5 H20 M7,7 V23 M13.5,7 V23" stroke-width="1.9"/><path d="M5.2,23 V28.3 H15.3 V23" stroke-width="2.8"/><path d="M24.8,4.5 V22" stroke-width="2.2"/></g></svg>
<div class="t" style="left:2894.0px;top:1119.8px;font-size:33px;font-weight:bold;letter-spacing:0.75px;color:#111;">Minor Channel</div>
<div class="t" style="left:2869.6px;top:1171.1px;font-size:33px;letter-spacing:1.22px;color:#111;">E-Commerce</div>
<svg style="position:absolute;left:3302px;top:1121px;" width="29" height="30" viewBox="0 0 24 24" fill="none"><circle cx="12" cy="12" r="10" stroke="#111" stroke-width="2.2"/><path d="M12,10.5 v6.5" stroke="#111" stroke-width="2.4"/><circle cx="12" cy="7.3" r="1.4" fill="#111"/></svg>
<div class="t" style="left:3334.2px;top:1119.8px;font-size:33px;font-weight:bold;letter-spacing:0.94px;color:#111;">Batch Number</div>
<div class="t" style="left:3310.0px;top:1171.1px;font-size:33px;letter-spacing:1.95px;color:#111;">578</div>
<svg style="position:absolute;left:1985px;top:1248px;" width="29" height="30" viewBox="0 0 24 24" fill="none"><path d="M2,1 v3 M2,7 v3 M2,13 v3 M2,19 v3" stroke="#111" stroke-width="2"/><circle cx="14" cy="10" r="8" stroke="#111" stroke-width="2.2"/><path d="M14,5.5 v5 h4" stroke="#111" stroke-width="2"/></svg>
<div class="t" style="left:2014.0px;top:1247.4px;font-size:33px;font-weight:bold;letter-spacing:0.79px;color:#111;">Duration</div>
<div class="t" style="left:1990.0px;top:1301.1px;font-size:33px;letter-spacing:-0.16px;color:#111;">1.50s</div>
<svg style="position:absolute;left:2422px;top:1248px;" width="29" height="30" viewBox="0 0 24 24" fill="none"><path d="M3,3 h8.5 l10,10 a1.5,1.5 0 0 1 0,2.1 l-6.4,6.4 a1.5,1.5 0 0 1 -2.1,0 l-10,-10 z" stroke="#111" stroke-width="2.2" stroke-linejoin="round"/><circle cx="7.5" cy="7.5" r="1.5" fill="#111"/></svg>
<div class="t" style="left:2464.5px;top:1247.4px;font-size:33px;font-weight:bold;letter-spacing:0.61px;color:#111;">Customer Name</div>
<div class="t" style="left:2429.4px;top:1301.1px;font-size:33px;letter-spacing:1.43px;color:#111;">mariya</div>
<svg style="position:absolute;left:2862px;top:1248px;" width="29" height="30" viewBox="0 0 24 24" fill="none"><rect x="5" y="1.5" width="14" height="21" rx="2.5" stroke="#111" stroke-width="2.6"/><path d="M5,19 h14" stroke="#111" stroke-width="2.6"/></svg>
<div class="t" style="left:2894.0px;top:1247.4px;font-size:33px;font-weight:bold;letter-spacing:0.65px;color:#111;">Mobile</div>
<div class="t" style="left:2869.6px;top:1301.1px;font-size:33px;letter-spacing:-0.83px;color:#111;">NA</div>
<svg style="position:absolute;left:3302px;top:1248px;" width="29" height="30" viewBox="0 0 24 24" fill="none"><rect x="1.5" y="4" width="21" height="16" rx="1.5" fill="#111"/><path d="M2.5,5.5 l9.5,7 l9.5,-7" stroke="#fff" stroke-width="2" fill="none"/></svg>
<div class="t" style="left:3334.2px;top:1247.4px;font-size:33px;font-weight:bold;letter-spacing:1.03px;color:#111;">Email</div>
<div class="t" style="left:3309.0px;top:1301.1px;font-size:33px;letter-spacing:0.64px;color:#111;">msahayaraj@dejavoo.io</div>
<svg style="position:absolute;left:1985px;top:1379px;" width="29" height="30" viewBox="0 0 24 24" fill="none"><circle cx="9" cy="6.5" r="4" fill="#111"/><path d="M1,20 c0,-5 3,-7 8,-7 c1.5,0 2.8,0.3 3.8,0.8 l-2,6.2z" fill="#111"/><path d="M13,17 l3,3 l6,-7" stroke="#111" stroke-width="2" fill="none"/></svg>
<div class="t" style="left:2014.0px;top:1377.8px;font-size:33px;font-weight:bold;letter-spacing:0.44px;color:#111;">Feedback</div>
<svg style="position:absolute;left:2422px;top:1379px;" width="29" height="30" viewBox="0 0 24 24" fill="none"><circle cx="12" cy="6.5" r="4.5" fill="#111"/><path d="M2.5,21 c0,-5 4,-8 9.5,-8 s9.5,3 9.5,8z" fill="#111"/></svg>
<div class="t" style="left:2455.6px;top:1377.8px;font-size:33px;font-weight:bold;letter-spacing:0.62px;color:#111;">Card Holder Name</div>
<div class="t" style="left:2429.4px;top:1428.6px;font-size:33px;letter-spacing:0.81px;color:#111;">Mariya</div>
<svg style="position:absolute;left:2862px;top:1379px;" width="29" height="30" viewBox="0 0 24 24" fill="none"><circle cx="12" cy="12" r="10" stroke="#111" stroke-width="2.2"/><path d="M12,10.5 v6.5" stroke="#111" stroke-width="2.4"/><circle cx="12" cy="7.3" r="1.4" fill="#111"/></svg>
<div class="t" style="left:2894.0px;top:1377.8px;font-size:33px;font-weight:bold;letter-spacing:-0.09px;color:#111;">Host Response Code</div>
<div class="t" style="left:2870.6px;top:1428.6px;font-size:33px;letter-spacing:5.35px;color:#111;">00</div>
<svg style="position:absolute;left:3302px;top:1379px;" width="29" height="30" viewBox="0 0 24 24" fill="none"><circle cx="12" cy="12" r="10" stroke="#111" stroke-width="2.2"/><path d="M12,10.5 v6.5" stroke="#111" stroke-width="2.4"/><circle cx="12" cy="7.3" r="1.4" fill="#111"/></svg>
<div class="t" style="left:3334.2px;top:1377.8px;font-size:33px;font-weight:bold;color:#111;">Reason</div>
<div class="t" style="left:3311.0px;top:1428.6px;font-size:33px;letter-spacing:-0.78px;color:#111;">APPROVAL TAS915</div>
<svg style="position:absolute;left:1985px;top:1505px;" width="29" height="30" viewBox="0 0 24 24" fill="none"><circle cx="12" cy="12" r="10" stroke="#111" stroke-width="2.2"/><path d="M12,10.5 v6.5" stroke="#111" stroke-width="2.4"/><circle cx="12" cy="7.3" r="1.4" fill="#111"/></svg>
<div class="t" style="left:2014.0px;top:1504.1px;font-size:33px;font-weight:bold;letter-spacing:1.09px;color:#111;">External ID</div>
<div class="t" style="left:1991.0px;top:1558.1px;font-size:33px;color:#111;">0</div>
<svg style="position:absolute;left:2422px;top:1505px;" width="29" height="30" viewBox="0 0 24 24" fill="none"><rect x="2" y="4" width="20" height="16" rx="2" stroke="#111" stroke-width="2.2"/><path d="M2.5,5.5 l9.5,7 l9.5,-7" stroke="#111" stroke-width="2.2" fill="none"/></svg>
<div class="t" style="left:2454.6px;top:1504.1px;font-size:33px;font-weight:bold;letter-spacing:0.55px;color:#111;">Performed by</div>
<div class="t" style="left:2430.4px;top:1558.1px;font-size:33px;letter-spacing:0.96px;color:#111;">dnarasimman@denov...</div>
<div class="t" style="left:2859.7px;top:1502.1px;font-size:33px;font-weight:bold;letter-spacing:0.78px;color:#111;">Processed as L2/L3</div>
<div class="t" style="left:2869.6px;top:1555.6px;font-size:33px;letter-spacing:1.87px;color:#111;">No</div>
<div class="t" style="left:3299.0px;top:1502.1px;font-size:33px;font-weight:bold;letter-spacing:0.70px;color:#111;">Processed as 3D Sec...</div>
<div class="t" style="left:3309.0px;top:1555.6px;font-size:33px;letter-spacing:2.47px;color:#111;">No</div>
<div class="t" style="left:1980.8px;top:1632.1px;font-size:33px;font-weight:bold;letter-spacing:0.53px;color:#111;">Offline Transaction</div>
<div class="t" style="left:1990.0px;top:1682.8px;font-size:33px;letter-spacing:1.87px;color:#111;">No</div>
<div style="position:absolute;left:1981px;top:1944px;width:728px;height:2px;background:#e8e8e8"></div>
<div style="position:absolute;left:2950px;top:1944px;width:730px;height:2px;background:#e8e8e8"></div>
<svg style="position:absolute;left:2753px;top:1930px;" width="16" height="25" viewBox="0 0 16 25" fill="none"><path d="M1.5,8 L8,2 L14.5,8 M1.5,15.5 L8,9.5 L14.5,15.5 M1.5,23 L8,17 L14.5,23" stroke="#111" stroke-width="2.2"/></svg>
<div class="t" style="left:2794.3px;top:1928.8px;font-size:29.5px;font-weight:bold;letter-spacing:-0.70px;color:#111;">Jump To</div>
<div style="position:absolute;left:2066px;top:2057px;width:299px;height:76px;background:#9d1dfc;border-radius:6px"></div>
<div class="t" style="left:2108.0px;top:2074.1px;font-size:33px;font-weight:bold;letter-spacing:0.32px;color:#fff;">About Device</div>
<div style="position:absolute;left:2512px;top:2057px;width:213px;height:76px;background:#1c1c1c;border-radius:6px"></div>
<div class="t" style="left:2552.7px;top:2074.1px;font-size:33px;font-weight:bold;letter-spacing:0.71px;color:#fff;">Batches</div>
<div style="position:absolute;left:2873px;top:2057px;width:255px;height:76px;background:#9d1dfc;border-radius:6px"></div>
<div class="t" style="left:2913.7px;top:2074.1px;font-size:33px;font-weight:bold;letter-spacing:1.18px;color:#fff;">Parameter</div>
<div style="position:absolute;left:3274px;top:2057px;width:259px;height:76px;background:#9d1dfc;border-radius:6px"></div>
<div class="t" style="left:3314.0px;top:2074.1px;font-size:33px;font-weight:bold;letter-spacing:0.64px;color:#fff;">Edit Param</div>
<div style="position:absolute;left:2987px;top:759px;width:433px;height:219px;background:#fff;border-radius:12px;box-shadow:0 8px 14px rgba(0,0,0,0.2),0 0 8px rgba(0,0,0,0.06)"></div>
<svg style="position:absolute;left:3063px;top:814px;" width="42" height="40" viewBox="0 0 24 24" fill="none"><path d="M1.5,12 C4,6.5 8,4 12,4 C16,4 20,6.5 22.5,12 C20,17.5 16,20 12,20 C8,20 4,17.5 1.5,12z" stroke="#555" stroke-width="1.8"/><circle cx="12" cy="12" r="3.6" stroke="#555" stroke-width="1.8"/></svg>
<svg style="position:absolute;left:3063px;top:883px;" width="42" height="40" viewBox="0 0 24 24" fill="none"><path d="M1.5,12 C4,6.5 8,4 12,4 C16,4 20,6.5 22.5,12 C20,17.5 16,20 12,20 C8,20 4,17.5 1.5,12z" stroke="#555" stroke-width="1.8"/><circle cx="12" cy="12" r="3.6" stroke="#555" stroke-width="1.8"/></svg>
<div class="t" style="left:3122.8px;top:816.8px;font-size:31px;letter-spacing:0.92px;color:#1a1a1a;">Merchant copy</div>
<div class="t" style="left:3123.8px;top:883.8px;font-size:31px;letter-spacing:0.75px;color:#1a1a1a;">Customer copy</div>
<div style="position:absolute;left:2962px;top:644px;width:472px;height:351px;border:7px solid #9d1dfc;box-sizing:border-box"></div>
</body></html>
